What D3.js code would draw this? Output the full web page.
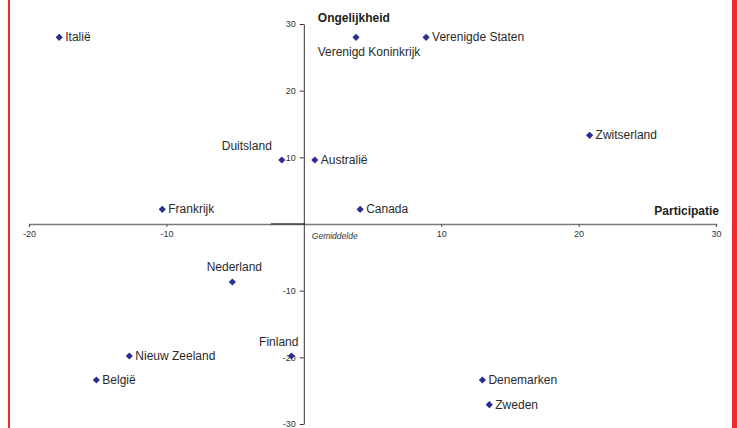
<!DOCTYPE html>
<html>
<head>
<meta charset="utf-8">
<script src="https://cdn.jsdelivr.net/npm/d3@7/dist/d3.min.js"></script>
<style>
  body { margin: 0; background: #fff; }
  svg { display: block; font-family: "Liberation Sans", Arial, sans-serif; }
</style>
</head>
<body>
<script>
// landen met participatie (x) en ongelijkheid (y)
const countries = ["Italië", "Verenigd Koninkrijk", "Verenigde Staten", "Zwitserland", "Duitsland", "Australië",
  "Frankrijk", "Canada", "Nederland", "Finland", "Nieuw Zeeland", "België", "Denemarken", "Zweden"];
const participatie = [-17.8, 3.8, 8.9, 20.8, -1.6, 0.8, -10.3, 4.1, -5.2, -0.9, -12.7, -15.1, 13.0, 13.5];
const ongelijkheid = [28.0, 28.0, 28.0, 13.3, 9.6, 9.6, 2.2, 2.2, -8.7, -19.8, -19.8, -23.4, -23.4, -27.1];
const xTicks = [-20, -10, 10, 20, 30];
const yTicks = [30, 20, 10, -10, -20, -30];

// plaatsing van de labels die niet rechts van het punt staan
const labelPlace = {
  "Verenigd Koninkrijk": "below",
  "Duitsland": "upleft",
  "Nederland": "above",
  "Finland": "upleft2"
};

const width = 737, height = 428;
const svg = d3.select("body").append("svg")
  .attr("width", width)
  .attr("height", height);

const x = d3.scaleLinear().domain([-20, 30]).range([29, 716]);
const y = d3.scaleLinear().domain([-30, 30]).range([424, 24]);
const fmt = d => String(d); // gewoon koppelteken als minteken

// rode randen
svg.append("rect").attr("x", 8).attr("y", 0).attr("width", 2).attr("height", height).attr("fill", "#ee2a2a");
svg.append("rect").attr("x", 732).attr("y", 0).attr("width", 5).attr("height", height).attr("fill", "#ee2a2a");

// x-as
const xAxis = svg.append("g")
  .attr("transform", `translate(0,${y(0)})`)
  .call(d3.axisBottom(x).tickValues(xTicks).tickFormat(fmt).tickSize(3).tickPadding(4));
xAxis.select(".domain").attr("stroke", "#7a7a7a").attr("stroke-width", 1.3);
xAxis.selectAll(".tick line").attr("stroke", "#555");
xAxis.selectAll(".tick text").attr("fill", "#333").style("font-size", "9px");

// donker stukje bij het gemiddelde
svg.append("line")
  .attr("x1", x(-2.4)).attr("x2", x(0.1))
  .attr("y1", y(0)).attr("y2", y(0))
  .attr("stroke", "#444").attr("stroke-width", 1.6);

// y-as
const yAxis = svg.append("g")
  .attr("transform", `translate(${x(0)},0)`)
  .call(d3.axisLeft(y).tickValues(yTicks).tickFormat(fmt).tickSize(4).tickPadding(4).tickSizeOuter(0));
yAxis.select(".domain").attr("stroke", "#333").attr("stroke-width", 1);
yAxis.selectAll(".tick line").attr("stroke", "#333");
yAxis.selectAll(".tick text").attr("fill", "#333").style("font-size", "9px");

// astitels
svg.append("text")
  .attr("x", x(0) + 14).attr("y", 22)
  .style("font-size", "12px").style("font-weight", "bold").attr("fill", "#222")
  .text("Ongelijkheid");
svg.append("text")
  .attr("x", 719).attr("y", 215).attr("text-anchor", "end")
  .style("font-size", "12px").style("font-weight", "bold").attr("fill", "#222")
  .text("Participatie");
svg.append("text")
  .attr("x", x(0) + 8).attr("y", y(0) + 15)
  .style("font-size", "8.5px").style("font-style", "italic").attr("fill", "#333")
  .text("Gemiddelde");

const points = countries.map((c, i) => ({ name: c, px: participatie[i], py: ongelijkheid[i] }));

const g = svg.append("g");
g.selectAll("path.pt").data(points).enter().append("path")
  .attr("class", "pt")
  .attr("d", d3.symbol().type(d3.symbolSquare).size(26))
  .attr("transform", d => `translate(${x(d.px)},${y(d.py)}) rotate(45)`)
  .attr("fill", "#2b2f8f");

g.selectAll("text.lbl").data(points).enter().append("text")
  .attr("class", "lbl")
  .style("font-size", "12px")
  .attr("fill", "#2a2a2a")
  .each(function (d) {
    const t = d3.select(this);
    const px = x(d.px), py = y(d.py);
    const place = labelPlace[d.name];
    if (place === "below") {
      t.attr("x", px + 13).attr("y", py + 19).attr("text-anchor", "middle");
    } else if (place === "upleft") {
      t.attr("x", px - 10).attr("y", py - 10).attr("text-anchor", "end");
    } else if (place === "upleft2") {
      t.attr("x", px + 7).attr("y", py - 10).attr("text-anchor", "end");
    } else if (place === "above") {
      t.attr("x", px + 2).attr("y", py - 11).attr("text-anchor", "middle");
    } else {
      t.attr("x", px + 6).attr("y", py + 4);
    }
  })
  .text(d => d.name);
</script>
</body>
</html>
